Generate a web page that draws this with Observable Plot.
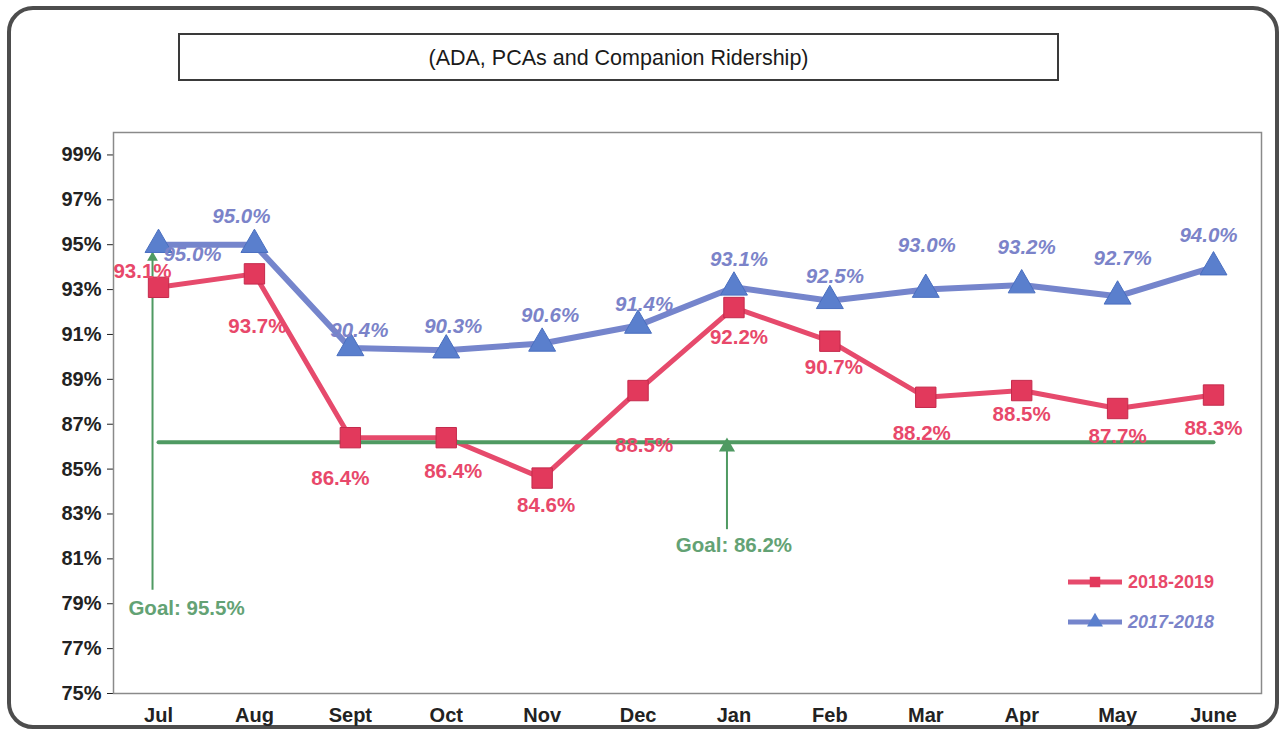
<!DOCTYPE html>
<html>
<head>
<meta charset="utf-8">
<script src="https://cdn.jsdelivr.net/npm/d3@7"></script>
<script src="https://cdn.jsdelivr.net/npm/@observablehq/plot@0.6"></script>
<style>
  html, body { margin: 0; padding: 0; background: #fff; }
  body { width: 1280px; height: 732px; position: relative; overflow: hidden; font-family: "Liberation Sans", Arial, sans-serif; }
  #frame { position: absolute; left: 7px; top: 6px; width: 1264px; height: 715px; border: 4px solid #4d4d4d; border-radius: 26px; }
  #title { position: absolute; left: 178px; top: 33px; width: 877px; height: 44px; border: 2px solid #3a3a3a; text-align: center; line-height: 46px; font-size: 21.5px; color: #1a1a1a; background: #fff; }
  #chart { position: absolute; left: 0; top: 0; }
  #legend { position: absolute; left: 1066px; top: 566px; }
</style>
</head>
<body>
<div id="frame"></div>
<div id="chart"></div>
<div id="title">(ADA, PCAs and Companion Ridership)</div>
<div id="legend"></div>
<script>
const months = ["Jul", "Aug", "Sept", "Oct", "Nov", "Dec", "Jan", "Feb", "Mar", "Apr", "May", "June"];
const fy2019 = [93.1, 93.7, 86.4, 86.4, 84.6, 88.5, 92.2, 90.7, 88.2, 88.5, 87.7, 88.3];
const fy2018 = [95.0, 95.0, 90.4, 90.3, 90.6, 91.4, 93.1, 92.5, 93.0, 93.2, 92.7, 94.0];
const seriesNames = ["2018-2019", "2017-2018"];
const goalValue = 86.2;
const goalLabels = ["Goal: 86.2%", "Goal: 95.5%"];
const yTicks = [75, 77, 79, 81, 83, 85, 87, 89, 91, 93, 95, 97, 99];

// annotation anchors (category, value) for the goal call-outs
const goal1Arrow = {month: "Jan", from: 82.3, to: 86.3};
const goal1Text = {month: "Jan", value: 81.6};
const goal2Arrow = {month: "Jul", from: 79.6, to: 94.6};
const goal2Text = {month: "Jul", value: 78.8};

// label pixel offsets (styling)
const redOff = [[-16,-16],[3,53],[-10,41],[7,34],[4,27],[6,55],[5,30],[4,26],[-4,36],[0,24],[0,28],[0,33]];
const blueOff = [[34,10],[-13,-28],[9,-17],[7,-24],[8,-28],[6,-21],[5,-28],[5,-24],[1,-44],[5,-38],[5,-38],[-5,-32]];

const RED = "#e2395c", RED_TXT = "#e8486a", RED_LINE = "#e64a6c";
const BLUE_LINE = "#7585cc", BLUE_MK = "#5a7fcd", BLUE_TXT = "#7b83c9";
const GREEN = "#4f9a62", GREEN_TXT = "#63a274";

const red = months.map((m, i) => ({month: m, value: fy2019[i]}));
const blue = months.map((m, i) => ({month: m, value: fy2018[i]}));
const goal = [{month: months[0], value: goalValue}, {month: months[months.length - 1], value: goalValue}];

const font = {fontFamily: "Liberation Sans, Arial, sans-serif", fontSize: 20.5, fontWeight: "bold"};

const marks = [
  Plot.frame({stroke: "#8a8a8a", strokeWidth: 1.5}),
  Plot.line(blue, {x: "month", y: "value", stroke: BLUE_LINE, strokeWidth: 6}),
  Plot.line(red, {x: "month", y: "value", stroke: RED_LINE, strokeWidth: 5}),
  Plot.line(goal, {x: "month", y: "value", stroke: GREEN, strokeWidth: 4}),
  Plot.ruleX([goal1Arrow], {x: "month", y1: "from", y2: "to", stroke: GREEN, strokeWidth: 2, dx: -7}),
  Plot.dot([goal1Arrow], {x: "month", y: "to", symbol: "triangle", r: 6, fill: GREEN, dx: -7, dy: 7}),
  Plot.ruleX([goal2Arrow], {x: "month", y1: "from", y2: "to", stroke: GREEN, strokeWidth: 2, dx: -6}),
  Plot.dot([goal2Arrow], {x: "month", y: "to", symbol: "triangle", r: 4, fill: GREEN, dx: -6, dy: 4}),
  Plot.dot(blue, {x: "month", y: "value", symbol: "triangle", r: 10, fill: BLUE_MK, stroke: "#4a6fc0", strokeWidth: 1}),
  Plot.dot(red, {x: "month", y: "value", symbol: "square", r: 11.5, fill: RED, stroke: "#c42a4c", strokeWidth: 1}),
  Plot.text([goal1Text], {x: "month", y: "value", text: () => goalLabels[0], fill: GREEN_TXT, ...font, dx: 0}),
  Plot.text([goal2Text], {x: "month", y: "value", text: () => goalLabels[1], fill: GREEN_TXT, ...font, dx: 28}),
  ...red.map((d, i) => Plot.text([d], {x: "month", y: "value", text: (d) => d.value.toFixed(1) + "%", fill: RED_TXT, ...font, dx: redOff[i][0], dy: redOff[i][1]})),
  ...blue.map((d, i) => Plot.text([d], {x: "month", y: "value", text: (d) => d.value.toFixed(1) + "%", fill: BLUE_TXT, ...font, fontStyle: "italic", dx: blueOff[i][0], dy: blueOff[i][1]}))
];

const chart = Plot.plot({
  width: 1280,
  height: 732,
  marginLeft: 113,
  marginRight: 19,
  marginTop: 132,
  marginBottom: 39,
  style: {fontFamily: "Liberation Sans, Arial, sans-serif", fontSize: "20px", fontWeight: "bold", color: "#222", background: "transparent"},
  x: {type: "point", domain: months, padding: 0.485, align: 0.484, round: false, label: null, tickSize: 0, tickPadding: 14, line: true},
  y: {domain: [75, 100], ticks: yTicks, tickFormat: (d) => d + "%", label: null, tickSize: 6, tickPadding: 6, line: true},
  marks
});
document.getElementById("chart").appendChild(chart);

// legend
const lg = d3.select("#legend").append("svg").attr("width", 180).attr("height", 70)
  .style("font-family", "Liberation Sans, Arial, sans-serif").style("font-weight", "bold").style("font-size", "18px");
const rows = [
  {name: seriesNames[0], line: RED_LINE, mk: RED, sym: d3.symbolSquare, italic: false, txt: RED_TXT, y: 16},
  {name: seriesNames[1], line: BLUE_LINE, mk: BLUE_MK, sym: d3.symbolTriangle, italic: true, txt: BLUE_TXT, y: 56}
];
for (const r of rows) {
  lg.append("line").attr("x1", 2).attr("x2", 56).attr("y1", r.y).attr("y2", r.y).attr("stroke", r.line).attr("stroke-width", 5);
  lg.append("path").attr("d", d3.symbol(r.sym, 110)()).attr("transform", `translate(29,${r.y})`).attr("fill", r.mk);
  lg.append("text").attr("x", 62).attr("y", r.y).attr("dy", "0.35em").attr("fill", r.txt)
    .style("font-style", r.italic ? "italic" : "normal").text(r.name);
}
</script>
</body>
</html>
